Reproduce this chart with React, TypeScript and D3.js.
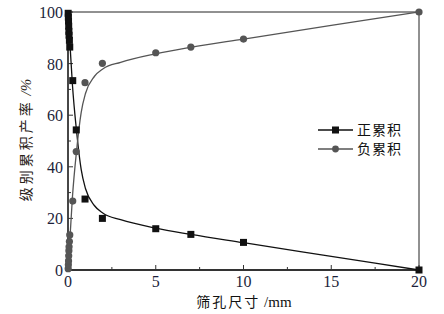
import React from "react";
import * as d3 from "d3";

// Measured data (sieve size mm, cumulative %)
const sieveX = [0.01, 0.02, 0.03, 0.04, 0.05, 0.06, 0.08, 0.1, 0.27, 0.47, 0.97, 1.96, 5, 7, 10, 20];
const positiveCum = [99.5, 98, 96.5, 94.5, 92.5, 91, 89, 86.4, 73.4, 54.3, 27.5, 20, 16, 13.8, 10.7, 0];
const negativeCum = [0.5, 2, 3.5, 5.5, 7.5, 9, 11, 13.6, 26.7, 45.9, 72.6, 80.1, 84.2, 86.4, 89.5, 100];

// Fitted curves
const fitX = [0, 0.05, 0.1, 0.25, 0.5, 0.75, 1, 1.5, 2, 3, 5, 7, 10, 15, 20];
const fitPositive = [100, 94, 89, 72, 53, 39, 31.5, 25, 22, 19.5, 16.2, 13.8, 10.6, 5.3, 0];
const fitNegative = [0, 6, 11, 28, 47, 61, 68.5, 75, 78, 80.5, 83.8, 86.3, 89.5, 94.8, 100];

const xTicks = [0, 5, 10, 15, 20];
const xMinor = [2.5, 7.5, 12.5, 17.5];
const yTicks = [0, 20, 40, 60, 80, 100];
const yMinor = [10, 30, 50, 70, 90];
const seriesNames = ["正累积", "负累积"];

const W = 444, H = 314;
const L = 68, R = 419, T = 12, B = 270;

export default function App() {
  const x = d3.scaleLinear().domain([0, 20]).range([L, R]);
  const y = d3.scaleLinear().domain([0, 100]).range([B, T]);
  const line = d3.line<number>().x((_, i) => x(fitX[i])).y((d) => y(d)).curve(d3.curveMonotoneX);
  const black = "#111";
  const grey = "#555";
  const serif = "'Liberation Serif', 'Times New Roman', serif";
  const cjk = "'Noto Sans CJK SC', sans-serif";
  return (
    <svg width={W} height={H} style={{ position: "absolute", left: 0, top: 0, background: "#fff" }}>
      <rect x={0} y={0} width={W} height={H} fill="#fff" />
      {/* frame */}
      <line x1={L} x2={R} y1={T} y2={T} stroke="#222" strokeWidth={1} />
      <line x1={R} x2={R} y1={T} y2={B} stroke="#222" strokeWidth={1} />
      <line x1={L} x2={R} y1={B} y2={B} stroke="#333" strokeWidth={1.8} />
      <line x1={L} x2={L} y1={T} y2={B} stroke="#333" strokeWidth={1.8} />
      {/* ticks */}
      {xTicks.map((t) => (
        <g key={"xt" + t}>
          <line x1={x(t)} x2={x(t)} y1={B} y2={B - 5} stroke="#333" />
          <text x={x(t)} y={287} textAnchor="middle" fontFamily={serif} fontSize={16} fill="#1c1f3a">{t}</text>
        </g>
      ))}
      {xMinor.map((t) => (
        <line key={"xm" + t} x1={x(t)} x2={x(t)} y1={B} y2={B - 3} stroke="#333" />
      ))}
      {yTicks.map((t) => (
        <g key={"yt" + t}>
          <line x1={L} x2={L + 5} y1={y(t)} y2={y(t)} stroke="#333" />
          <text x={63} y={y(t) + 6} textAnchor="end" fontFamily={serif} fontSize={16} fill="#1c1f3a">{t}</text>
        </g>
      ))}
      {yMinor.map((t) => (
        <line key={"ym" + t} x1={L} x2={L + 3} y1={y(t)} y2={y(t)} stroke="#333" />
      ))}
      {/* curves */}
      <path d={line(fitPositive) || ""} fill="none" stroke={black} strokeWidth={1.3} />
      <path d={line(fitNegative) || ""} fill="none" stroke={grey} strokeWidth={1.3} />
      {/* markers */}
      {sieveX.map((sx, i) => (
        <rect key={"p" + i} x={x(sx) - 3.5} y={y(positiveCum[i]) - 3.5} width={7} height={7} fill={black} />
      ))}
      {sieveX.map((sx, i) => (
        <circle key={"n" + i} cx={x(sx)} cy={y(negativeCum[i])} r={3.6} fill={grey} />
      ))}
      {/* legend */}
      <g>
        <line x1={318} x2={353} y1={130} y2={130} stroke={black} strokeWidth={1.3} />
        <rect x={332} y={126.5} width={7} height={7} fill={black} />
        <text x={357} y={135} fontFamily={cjk} fontSize={14} letterSpacing={1} fill="#111">{seriesNames[0]}</text>
        <line x1={318} x2={353} y1={149} y2={149} stroke={grey} strokeWidth={1.3} />
        <circle cx={335.5} cy={149} r={3.4} fill={grey} />
        <text x={357} y={154} fontFamily={cjk} fontSize={14} letterSpacing={1} fill="#111">{seriesNames[1]}</text>
      </g>
      {/* axis titles */}
      <text x={244} y={307} textAnchor="middle" fontSize={14} fill="#111">
        <tspan fontFamily={cjk} letterSpacing={2}>筛孔尺寸</tspan>
        <tspan fontFamily={serif} fontSize={15}> /mm</tspan>
      </text>
      <text transform={`translate(31,140) rotate(-90)`} textAnchor="middle" fontSize={14} fill="#2a2218">
        <tspan fontFamily={cjk} letterSpacing={3}>级别累积产率</tspan>
        <tspan fontFamily={serif} fontStyle="italic" fontSize={15}> /%</tspan>
      </text>
    </svg>
  );
}
